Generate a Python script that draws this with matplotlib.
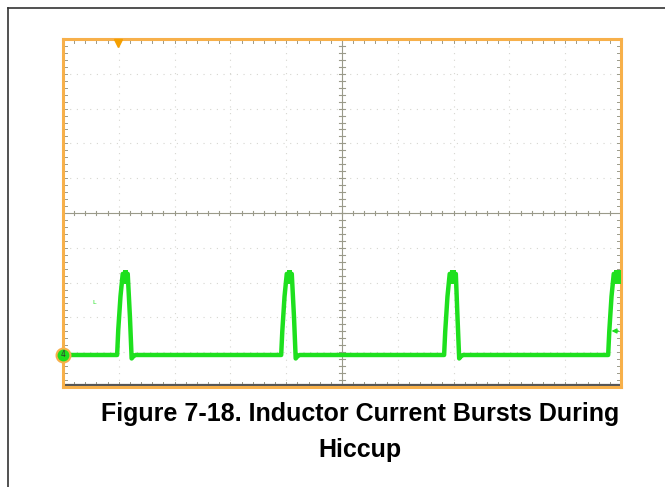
import numpy as np
import matplotlib
matplotlib.use('Agg')
import matplotlib.pyplot as plt
from matplotlib.lines import Line2D

# scope trace, x and y in screen divisions (10 x 10 grid, centre = 0)
trace_t = [-5.00, -4.03, -4.01, -3.97, -3.93, -3.84, -3.80, -3.77, -3.74, -3.70,
           -1.09, -1.07, -1.03, -0.99, -0.90, -0.86, -0.83, -0.80, -0.76,
           1.83, 1.85, 1.89, 1.93, 2.04, 2.07, 2.10, 2.13, 2.17,
           4.77, 4.79, 4.83, 4.87, 5.00]
trace_i = [-4.08, -4.08, -3.36, -2.40, -1.75, -1.75, -3.00, -4.18, -4.12, -4.08,
           -4.08, -3.40, -2.40, -1.75, -1.75, -3.00, -4.18, -4.12, -4.08,
           -4.08, -3.40, -2.40, -1.75, -1.75, -3.00, -4.18, -4.12, -4.08,
           -4.08, -3.40, -2.40, -1.75, -1.75]

# noisy plateau band at the top of each burst
plateau_t0 = [-3.93, -0.99, 1.93, 4.87]
plateau_t1 = [-3.84, -0.90, 2.04, 5.00]
plateau_hi = -1.64
plateau_lo = -2.05

trig_pos = -4.01
trig_level = -3.39
ch_offset = -4.08

green = '#1ee01e'
orange = '#f7b04a'
grid_c = '#9a9a8a'

fig = plt.figure(figsize=(6.65, 4.87), dpi=100)
ax = fig.add_axes([63/665, 1-387/487, 558/665, 348/487])
ax.set_xlim(-5, 5)
ax.set_ylim(-5, 5)
ax.set_xticks([])
ax.set_yticks([])
for s in ax.spines.values():
    s.set_color(orange)
    s.set_linewidth(2.2)

# dotted grid
for k in range(-4, 5):
    if k == 0:
        continue
    ax.axvline(k, color='#d6d6d0', lw=0.8, ls=(0, (1, 5)), zorder=1)
    ax.axhline(k, color='#d6d6d0', lw=0.8, ls=(0, (1, 5)), zorder=1)
ax.axvline(0, color=grid_c, lw=0.8, zorder=1)
ax.axhline(0, color=grid_c, lw=0.8, zorder=1)

# minor ticks on border and centre lines
minor = np.arange(-5, 5.01, 0.2)
for m in minor:
    ax.plot([m, m], [5, 4.88], color=grid_c, lw=0.7, zorder=1)
    ax.plot([m, m], [-4.85, -4.97], color=grid_c, lw=0.7, zorder=1)
    ax.plot([-5, -4.92], [m, m], color=grid_c, lw=0.7, zorder=1)
    ax.plot([5, 4.92], [m, m], color=grid_c, lw=0.7, zorder=1)
    ax.plot([m, m], [-0.07, 0.07], color=grid_c, lw=0.8, zorder=1)
    ax.plot([-0.05, 0.05], [m, m], color=grid_c, lw=0.8, zorder=1)
ax.axhline(-4.95, color='#555555', lw=1.6, zorder=2)

# trace
ax.plot(trace_t, trace_i, color=green, lw=3.2, solid_joinstyle='round', zorder=4)
for a, b in zip(plateau_t0, plateau_t1):
    ax.fill_between([a, b], plateau_lo, plateau_hi, color=green, lw=0, zorder=4)

# markers
ax.plot(trig_pos, 4.88, marker='v', color='#f5a000', ms=6, clip_on=False, zorder=6)
ax.plot(-5, ch_offset, marker='o', ms=10, mfc=green, mec=orange, mew=1.5,
        clip_on=False, zorder=6)
ax.text(-5, ch_offset, '4', fontsize=5.5, ha='center', va='center', color='#333333',
        zorder=7, clip_on=False)
ax.annotate('', xy=(4.78, trig_level), xytext=(5.0, trig_level),
            arrowprops=dict(arrowstyle='-|>', color=green, lw=1, mutation_scale=7),
            zorder=6)
ax.text(-4.45, -2.57, 'L', fontsize=4.5, color=green, ha='center', va='center')

# page frame
fig.add_artist(Line2D([8/665, 8/665], [0, 1-8/487], color='#333333', lw=1.2))
fig.add_artist(Line2D([8/665, 1], [1-8/487, 1-8/487], color='#333333', lw=1.2))

fig.text(360/665, 1-414/487, 'Figure 7-18. Inductor Current Bursts During',
         ha='center', va='center', fontsize=18, fontweight='bold',
         family='Liberation Sans')
fig.text(360/665, 1-450/487, 'Hiccup', ha='center', va='center', fontsize=18,
         fontweight='bold', family='Liberation Sans')

fig.savefig('out.png', dpi=100)
